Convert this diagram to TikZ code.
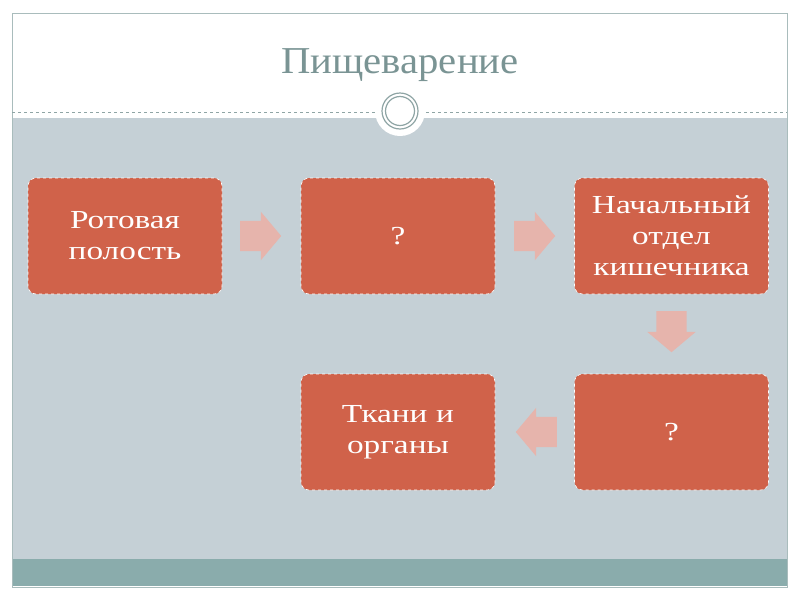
\documentclass[tikz,border=0pt]{standalone}
\usepackage{fontspec}
\setmainfont{Liberation Serif}
\newfontfamily\titlefont{Liberation Serif}[FakeStretch=1.07]
\newfontfamily\stagefont{Liberation Serif}[FakeStretch=1.28]
\usetikzlibrary{positioning,shapes.arrows}
\definecolor{PFrame}{HTML}{A9BCBC}
\definecolor{PGray}{HTML}{C5D0D6}
\definecolor{PTeal}{HTML}{8AACAC}
\definecolor{PTitle}{HTML}{7A9494}
\definecolor{PRing}{HTML}{8FA5A5}
\definecolor{PBox}{HTML}{D0624A}
\definecolor{PArrow}{HTML}{E6B4AC}

\begin{document}
\begin{tikzpicture}[
  x=1pt,y=-1pt,
  stage/.style={draw=white,dashed,line width=0.6pt,rounded corners=8pt,fill=PBox,
    text=white,text width=186pt,minimum width=194pt,minimum height=116pt,
    align=center,inner sep=0pt,font=\stagefont\fontsize{26}{31}\selectfont},
  blockarr/.style={single arrow,draw=none,fill=PArrow,inner xsep=0pt,inner ysep=15pt,
    minimum width=48pt,minimum height=41pt,single arrow head extend=9pt,
    single arrow tip angle=100,single arrow head indent=0pt,anchor=tail}
]
  \useasboundingbox (0,0) rectangle (800,600);
  % slide background
  \fill[white] (12,13) rectangle (787,587);
  \fill[PGray] (12,118) rectangle (787,559);
  \fill[PTeal] (12,559) rectangle (787,586);
  \draw[PFrame,line width=1pt] (12,13) rectangle (787,587);
  \draw[PRing,dashed,line width=0.6pt] (12,112) -- (787,112);
  \fill[white] (400,111) circle (25);
  \draw[PRing,line width=1.2pt] (400,111) circle (18);
  \draw[PRing,line width=1.2pt] (400,111) circle (14.5);
  \node[text=PTitle,anchor=base,font=\titlefont\fontsize{38}{44}\selectfont] (title) at (400,73) {Пищеварение};

  % stages
  \node[stage] (mouth) at (125,236) {Ротовая\\полость};
  \node[stage] (q1) at (398,236) {?};
  \node[stage] (gut) at (671.5,236) {Начальный\\отдел\\кишечника};
  \node[stage] (q2) at (671.5,432) {?};
  \node[stage] (tissue) at (398,432) {Ткани и\\органы};

  \node[blockarr] (a1) at (240,236) {};
  \node[blockarr] (a2) at (514,236) {};
  \node[blockarr,rotate=-90] (a3) at (671.5,311) {};
  \node[blockarr,rotate=180] (a4) at (557,432) {};
\end{tikzpicture}
\end{document}
